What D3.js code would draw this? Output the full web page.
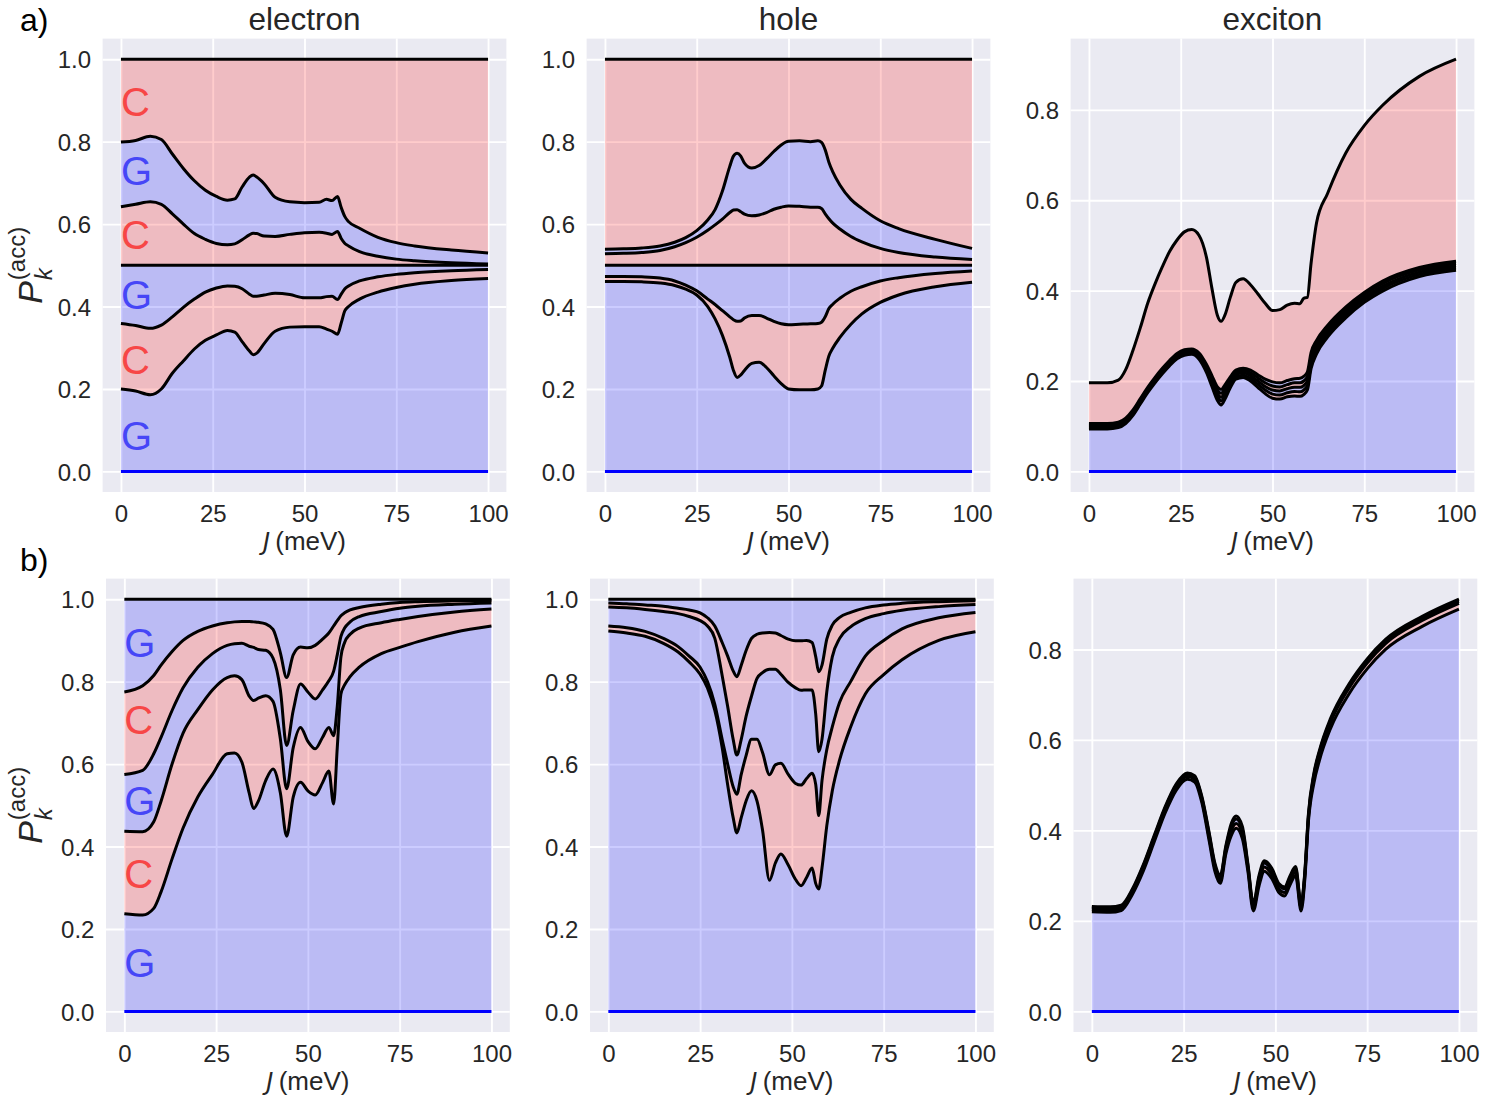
<!DOCTYPE html>
<html>
<head>
<meta charset="utf-8">
<title>Accumulated probabilities</title>
<script src="https://d3js.org/d3.v7.min.js"></script>
<style>
  body { margin: 0; background: #ffffff; }
</style>
</head>
<body>
<script>
// ---------- data ----------
var xTicks = [0, 25, 50, 75, 100];
var yTicksFull = [0, 0.2, 0.4, 0.6, 0.8, 1.0];
var yTicksExc = [0, 0.2, 0.4, 0.6, 0.8];
var titles = ["electron", "hole", "exciton"];
var rowLetters = ["a)", "b)"];

// row a, electron
var elecTopJ = [0,4,8,11,14,17,20,23,26,29,31,33,35,36,37,39,42,46,50,54,56,57.5,59,60,61,62,65,70,75,80,90,100];
var elecTop1 = [0.200,0.195,0.186,0.200,0.238,0.268,0.297,0.318,0.331,0.342,0.338,0.315,0.292,0.283,0.287,0.310,0.340,0.350,0.351,0.351,0.345,0.340,0.333,0.360,0.390,0.400,0.418,0.435,0.446,0.454,0.463,0.468];
var elecTop2 = [0.359,0.354,0.347,0.355,0.375,0.398,0.418,0.435,0.445,0.450,0.449,0.443,0.430,0.425,0.425,0.428,0.432,0.429,0.421,0.421,0.424,0.425,0.417,0.430,0.443,0.450,0.462,0.472,0.478,0.482,0.487,0.490];
var elecTop4 = [0.642,0.648,0.654,0.648,0.625,0.600,0.577,0.563,0.553,0.550,0.552,0.562,0.574,0.578,0.577,0.571,0.570,0.575,0.579,0.580,0.578,0.575,0.582,0.565,0.553,0.547,0.533,0.522,0.515,0.511,0.506,0.503];
var elecTop5 = [0.799,0.803,0.813,0.805,0.770,0.735,0.705,0.682,0.667,0.658,0.661,0.690,0.714,0.719,0.714,0.698,0.665,0.654,0.652,0.653,0.660,0.657,0.667,0.640,0.618,0.606,0.590,0.568,0.555,0.547,0.537,0.530];

// row a, hole
var holeTopJ = [0,5,10,15,19,22,25,28,30,32,34,35,36,37,38,40,42,44,46,48,50,53,56,58,59,60,61,62,64,67,70,75,80,90,100];
var holeTop1 = [0.461,0.461,0.460,0.457,0.451,0.442,0.428,0.400,0.370,0.330,0.277,0.245,0.228,0.234,0.245,0.262,0.265,0.252,0.232,0.213,0.200,0.198,0.198,0.200,0.207,0.245,0.280,0.298,0.325,0.357,0.382,0.410,0.428,0.448,0.459];
var holeTop2 = [0.473,0.473,0.472,0.469,0.462,0.452,0.438,0.418,0.405,0.390,0.375,0.368,0.364,0.365,0.372,0.378,0.378,0.372,0.364,0.358,0.356,0.357,0.358,0.359,0.362,0.375,0.395,0.405,0.420,0.437,0.448,0.462,0.470,0.480,0.486];
var holeTop4 = [0.528,0.529,0.531,0.536,0.545,0.555,0.568,0.585,0.598,0.612,0.628,0.634,0.635,0.630,0.624,0.620,0.622,0.628,0.636,0.641,0.644,0.643,0.641,0.641,0.638,0.625,0.613,0.603,0.588,0.570,0.557,0.541,0.531,0.520,0.514];
var holeTop5 = [0.539,0.540,0.542,0.547,0.556,0.567,0.584,0.610,0.635,0.680,0.740,0.765,0.772,0.765,0.748,0.736,0.742,0.758,0.776,0.792,0.801,0.802,0.800,0.802,0.798,0.780,0.750,0.728,0.695,0.660,0.638,0.608,0.589,0.563,0.541];

// row a, exciton
var excTopJ = [0,5,8,10,12,14,16,18,20,22,24,26,28,30,32,33.5,35,36,37,38.5,40,42,44,46,48,50,52,54,56,57.5,58.5,59.5,60.5,62,65,70,75,80,90,100];
var excTop1 = [0.094,0.094,0.097,0.106,0.124,0.149,0.174,0.196,0.216,0.234,0.249,0.257,0.259,0.248,0.219,0.188,0.157,0.147,0.159,0.185,0.204,0.208,0.200,0.186,0.172,0.162,0.160,0.165,0.167,0.166,0.170,0.180,0.227,0.260,0.297,0.340,0.374,0.399,0.431,0.445];
var excTop2 = [0.097,0.097,0.100,0.109,0.127,0.152,0.177,0.199,0.219,0.237,0.252,0.260,0.262,0.252,0.224,0.194,0.165,0.156,0.167,0.191,0.209,0.213,0.206,0.193,0.180,0.171,0.169,0.174,0.177,0.176,0.180,0.190,0.236,0.268,0.304,0.346,0.380,0.405,0.436,0.450];
var excTop3 = [0.100,0.100,0.103,0.112,0.130,0.155,0.180,0.202,0.222,0.240,0.255,0.263,0.265,0.255,0.228,0.200,0.172,0.164,0.175,0.197,0.214,0.218,0.212,0.200,0.188,0.180,0.178,0.183,0.186,0.186,0.190,0.200,0.245,0.275,0.310,0.352,0.385,0.410,0.441,0.455];
var excTop4 = [0.103,0.103,0.106,0.115,0.133,0.158,0.183,0.205,0.225,0.243,0.258,0.266,0.268,0.259,0.233,0.206,0.180,0.173,0.183,0.203,0.219,0.223,0.218,0.207,0.196,0.189,0.187,0.192,0.196,0.196,0.200,0.210,0.254,0.283,0.317,0.358,0.391,0.416,0.446,0.460];
var excTop5 = [0.106,0.106,0.109,0.118,0.136,0.161,0.186,0.208,0.228,0.246,0.261,0.269,0.271,0.262,0.237,0.212,0.187,0.181,0.191,0.209,0.224,0.228,0.224,0.214,0.204,0.198,0.196,0.201,0.205,0.206,0.210,0.220,0.263,0.290,0.323,0.364,0.396,0.421,0.451,0.465];
var excTop6 = [0.196,0.196,0.202,0.225,0.268,0.318,0.372,0.415,0.453,0.487,0.512,0.530,0.535,0.522,0.474,0.405,0.345,0.332,0.345,0.385,0.418,0.426,0.413,0.393,0.372,0.356,0.358,0.368,0.372,0.371,0.383,0.385,0.460,0.550,0.615,0.705,0.765,0.810,0.874,0.912];

// row b, electron
var elecBotJ = [0,5,8,10,13,16,20,24,28,30,32,34,35.2,36.5,38.5,40.5,42.5,44.2,46,48,50,52,54,55.7,57,58,59,60,61.5,64,70,75,80,90,100];
var elecBot1 = [0.237,0.234,0.250,0.290,0.370,0.445,0.520,0.575,0.625,0.627,0.605,0.530,0.492,0.510,0.560,0.588,0.530,0.425,0.520,0.556,0.535,0.525,0.555,0.583,0.503,0.640,0.770,0.792,0.812,0.835,0.868,0.883,0.897,0.920,0.935];
var elecBot2 = [0.437,0.436,0.460,0.510,0.600,0.675,0.732,0.780,0.810,0.814,0.805,0.765,0.754,0.760,0.766,0.752,0.661,0.540,0.640,0.689,0.655,0.637,0.665,0.689,0.669,0.740,0.860,0.895,0.915,0.930,0.943,0.951,0.958,0.969,0.976];
var elecBot3 = [0.575,0.585,0.625,0.665,0.730,0.785,0.835,0.868,0.888,0.892,0.893,0.886,0.883,0.878,0.876,0.857,0.780,0.645,0.730,0.794,0.775,0.758,0.780,0.802,0.825,0.865,0.910,0.930,0.945,0.958,0.970,0.978,0.983,0.988,0.991];
var elecBot4 = [0.775,0.790,0.815,0.840,0.873,0.900,0.922,0.935,0.943,0.945,0.946,0.946,0.945,0.944,0.940,0.927,0.870,0.810,0.865,0.884,0.882,0.888,0.903,0.918,0.935,0.948,0.960,0.967,0.974,0.980,0.988,0.992,0.994,0.996,0.997];

// row b, hole
var holeBotJ = [0,5,10,15,19,22,25,27,29,31,32.5,34,35,36.2,37.5,39,40.5,42,43.9,45.5,47,49,51,52.5,54,55.5,56.5,57.3,58.2,59.5,61,63,66,70,75,80,90,100];
var holeBot1 = [0.923,0.918,0.910,0.893,0.872,0.848,0.818,0.785,0.730,0.640,0.550,0.470,0.433,0.470,0.510,0.535,0.510,0.440,0.318,0.360,0.382,0.355,0.320,0.305,0.325,0.348,0.310,0.297,0.348,0.450,0.535,0.610,0.690,0.770,0.817,0.853,0.900,0.921];
var holeBot2 = [0.935,0.931,0.922,0.905,0.885,0.862,0.835,0.800,0.745,0.660,0.600,0.545,0.527,0.575,0.620,0.660,0.660,0.628,0.574,0.598,0.602,0.575,0.553,0.549,0.565,0.578,0.550,0.475,0.560,0.635,0.690,0.750,0.800,0.862,0.900,0.928,0.955,0.968];
var holeBot3 = [0.981,0.979,0.975,0.970,0.965,0.958,0.948,0.935,0.905,0.815,0.740,0.660,0.622,0.660,0.715,0.765,0.808,0.822,0.830,0.830,0.818,0.798,0.785,0.779,0.780,0.780,0.720,0.630,0.660,0.775,0.860,0.905,0.933,0.953,0.965,0.973,0.982,0.987];
var holeBot4 = [0.991,0.989,0.986,0.983,0.978,0.974,0.967,0.955,0.935,0.895,0.862,0.826,0.812,0.840,0.875,0.905,0.915,0.918,0.919,0.918,0.912,0.903,0.899,0.899,0.900,0.895,0.860,0.824,0.840,0.903,0.937,0.956,0.968,0.979,0.986,0.990,0.994,0.996];

// row b, exciton
var excBotJ = [0,5,8,11,14,17,20,23,26,28,30,32,33.5,35,36.5,38,39.3,41,42.5,44,45.5,47,49,51,52.5,54,55.5,57,58,59,60.5,62,65,70,75,80,90,100];
var excBot1 = [0.220,0.219,0.223,0.258,0.310,0.375,0.439,0.489,0.513,0.507,0.460,0.375,0.310,0.283,0.348,0.389,0.405,0.382,0.310,0.222,0.276,0.310,0.294,0.262,0.255,0.280,0.300,0.222,0.290,0.420,0.505,0.555,0.625,0.701,0.757,0.800,0.851,0.889];
var excBot2 = [0.225,0.224,0.228,0.263,0.316,0.381,0.445,0.495,0.519,0.513,0.466,0.382,0.317,0.290,0.355,0.399,0.415,0.392,0.317,0.229,0.285,0.319,0.303,0.270,0.263,0.288,0.308,0.229,0.297,0.427,0.518,0.568,0.638,0.714,0.770,0.813,0.864,0.902];
var excBot3 = [0.229,0.228,0.232,0.267,0.321,0.386,0.450,0.500,0.524,0.518,0.471,0.389,0.324,0.297,0.362,0.409,0.425,0.402,0.323,0.235,0.294,0.328,0.312,0.278,0.271,0.296,0.316,0.235,0.303,0.433,0.523,0.573,0.643,0.719,0.775,0.818,0.869,0.907];
var excBot4 = [0.232,0.231,0.235,0.270,0.324,0.389,0.453,0.503,0.527,0.521,0.474,0.393,0.328,0.301,0.366,0.416,0.432,0.409,0.327,0.239,0.299,0.333,0.317,0.282,0.275,0.300,0.320,0.239,0.307,0.437,0.527,0.577,0.647,0.723,0.779,0.822,0.873,0.911];

// C / G labels of the electron panels (vertical position in data units)
var labelsTop = ["C", "G", "C", "G", "C", "G"];
var labelsTopY = [0.896, 0.729, 0.575, 0.430, 0.272, 0.088];
var labelsBot = ["G", "C", "G", "C", "G"];
var labelsBotY = [0.895, 0.709, 0.511, 0.334, 0.118];

// ---------- layout ----------
var W = 1495, H = 1111;
var pw = 403.8, ph = 453.4;
var font = "'Liberation Sans', Arial, sans-serif";
var txt = "#262626";
var fillColors = ["#0000ff", "#ff0000"];
var labelColors = { C: "#f74646", G: "#4646f7" };

var panels = [
  { x: 102.6, y: 38.6, J: elecTopJ, curves: [0, elecTop1, elecTop2, 0.5, elecTop4, elecTop5, 1], yTicks: yTicksFull, col: 0, row: 0, labels: labelsTop, labelsY: labelsTopY },
  { x: 586.6, y: 38.6, J: holeTopJ, curves: [0, holeTop1, holeTop2, 0.5, holeTop4, holeTop5, 1], yTicks: yTicksFull, col: 1, row: 0 },
  { x: 1070.6, y: 38.6, J: excTopJ, curves: [0, excTop1, excTop2, excTop3, excTop4, excTop5, excTop6], yTicks: yTicksExc, col: 2, row: 0 },
  { x: 106, y: 578.6, J: elecBotJ, curves: [0, elecBot1, elecBot2, elecBot3, elecBot4, 1], yTicks: yTicksFull, col: 0, row: 1, labels: labelsBot, labelsY: labelsBotY },
  { x: 590, y: 578.6, J: holeBotJ, curves: [0, holeBot1, holeBot2, holeBot3, holeBot4, 1], yTicks: yTicksFull, col: 1, row: 1 },
  { x: 1073.5, y: 578.6, J: excBotJ, curves: [0, excBot1, excBot2, excBot3, excBot4], yTicks: yTicksExc, col: 2, row: 1 }
];

var svg = d3.select("body")
            .append("svg")
            .attr("width", W)
            .attr("height", H)
            .style("background", "#ffffff");

panels.forEach(drawPanel);

// row letters
svg.selectAll("text.rowletter")
    .data(rowLetters)
    .enter()
    .append("text")
    .attr("class", "rowletter")
    .attr("x", 20)
    .attr("y", function(d, i) { return i == 0 ? 31 : 571; })
    .attr("font-family", font)
    .attr("font-size", 32)
    .attr("fill", "#000")
    .text(function(d) { return d; });

function drawPanel(p) {
    var g = svg.append("g").attr("transform", "translate(" + p.x + "," + p.y + ")");

    // constant levels become full series
    var series = p.curves.map(function(c) {
        return typeof c === "number" ? p.J.map(function() { return c; }) : c;
    });

    // matplotlib-like autoscale with 5% margins
    var xe = d3.extent(p.J), xpad = (xe[1] - xe[0]) * 0.05;
    var all = d3.merge(series);
    var lo = d3.min(all), hi = d3.max(all), ypad = (hi - lo) * 0.05;
    var x = d3.scaleLinear().domain([xe[0] - xpad, xe[1] + xpad]).range([0, pw]);
    var y = d3.scaleLinear().domain([lo - ypad, hi + ypad]).range([ph, 0]);

    g.append("rect")
        .attr("width", pw)
        .attr("height", ph)
        .attr("fill", "#eaeaf2");

    // grid
    var gx = g.append("g")
        .attr("transform", "translate(0," + ph + ")")
        .call(d3.axisBottom(x).tickValues(xTicks).tickSize(-ph).tickFormat(""));
    var gy = g.append("g")
        .call(d3.axisLeft(y).tickValues(p.yTicks).tickSize(-pw).tickFormat(""));
    [gx, gy].forEach(function(a) {
        a.select(".domain").remove();
        a.selectAll("line").attr("stroke", "#ffffff").attr("stroke-width", 1.9);
    });

    // fills between consecutive curves
    var pairs = d3.range(series.length - 1);
    var area = function(i) {
        return d3.area()
            .x(function(d, k) { return x(p.J[k]); })
            .y0(function(d, k) { return y(series[i][k]); })
            .y1(function(d, k) { return y(series[i + 1][k]); })
            .curve(d3.curveMonotoneX);
    };
    g.selectAll("path.band")
        .data(pairs)
        .enter()
        .append("path")
        .attr("class", "band")
        .attr("d", function(i) { return area(i)(p.J); })
        .attr("fill", function(i) { return fillColors[i % 2]; })
        .attr("fill-opacity", 0.2)
        .attr("stroke", "none");

    // curves
    var line = d3.line()
        .x(function(d, k) { return x(p.J[k]); })
        .y(function(d) { return y(d); })
        .curve(d3.curveMonotoneX);
    g.selectAll("path.curve")
        .data(series)
        .enter()
        .append("path")
        .attr("class", "curve")
        .attr("d", function(d) { return line(d); })
        .attr("fill", "none")
        .attr("stroke", function(d, i) { return i == 0 ? "#0000ff" : "#000000"; })
        .attr("stroke-width", 3)
        .attr("stroke-linejoin", "round");

    // tick labels
    var ax = g.append("g")
        .attr("transform", "translate(0," + ph + ")")
        .call(d3.axisBottom(x).tickValues(xTicks).tickSize(0).tickPadding(12.6).tickFormat(d3.format("d")));
    var ay = g.append("g")
        .call(d3.axisLeft(y).tickValues(p.yTicks).tickSize(0).tickPadding(11.6).tickFormat(d3.format(".1f")));
    [ax, ay].forEach(function(a) {
        a.select(".domain").remove();
        a.selectAll("text")
            .attr("font-family", font)
            .attr("font-size", 24)
            .attr("fill", txt);
    });
    ay.selectAll("text").attr("dy", "0.36em");

    // x label
    var xl = g.append("text")
        .attr("x", pw / 2)
        .attr("y", ph + 58)
        .attr("text-anchor", "middle")
        .attr("font-family", font)
        .attr("font-size", 26)
        .attr("fill", txt);
    xl.append("tspan").attr("font-family", "'DejaVu Sans'").attr("font-style", "italic").attr("font-size", 24).text("J");
    xl.append("tspan").text("\u2009(meV)");

    // title
    if (p.row == 0) {
        g.append("text")
            .attr("x", pw / 2)
            .attr("y", -8.6)
            .attr("text-anchor", "middle")
            .attr("font-family", font)
            .attr("font-size", 31.5)
            .attr("fill", txt)
            .text(titles[p.col]);
    }

    // y label and C/G labels for the first column
    if (p.col == 0) {
        var yl = g.append("g");
        var pText = yl.append("text")
            .attr("x", 0).attr("y", 0)
            .attr("font-family", font)
            .attr("font-style", "italic")
            .attr("font-size", 34)
            .attr("fill", txt)
            .text("P");
        var pw0 = pText.node().getComputedTextLength();
        yl.append("text")
            .attr("x", pw0 + 1).attr("y", 10)
            .attr("font-family", font)
            .attr("font-style", "italic")
            .attr("font-size", 24)
            .attr("fill", txt)
            .text("k");
        yl.append("text")
            .attr("x", pw0 + 1).attr("y", -17)
            .attr("font-family", font)
            .attr("font-size", 24)
            .attr("fill", txt)
            .text("(acc)");
        var bb = yl.node().getBBox();
        var cy = ph / 2 + bb.x + bb.width / 2;
        yl.attr("transform", "translate(" + (42 - p.x) + "," + cy + ") rotate(-90)");

        g.selectAll("text.cg")
            .data(p.labels)
            .enter()
            .append("text")
            .attr("class", "cg")
            .attr("x", x(0))
            .attr("y", function(d, i) { return y(p.labelsY[i]); })
            .attr("dy", "0.36em")
            .attr("font-family", font)
            .attr("font-size", 40)
            .attr("fill", function(d) { return labelColors[d]; })
            .text(function(d) { return d; });
    }
}
</script>
</body>
</html>
